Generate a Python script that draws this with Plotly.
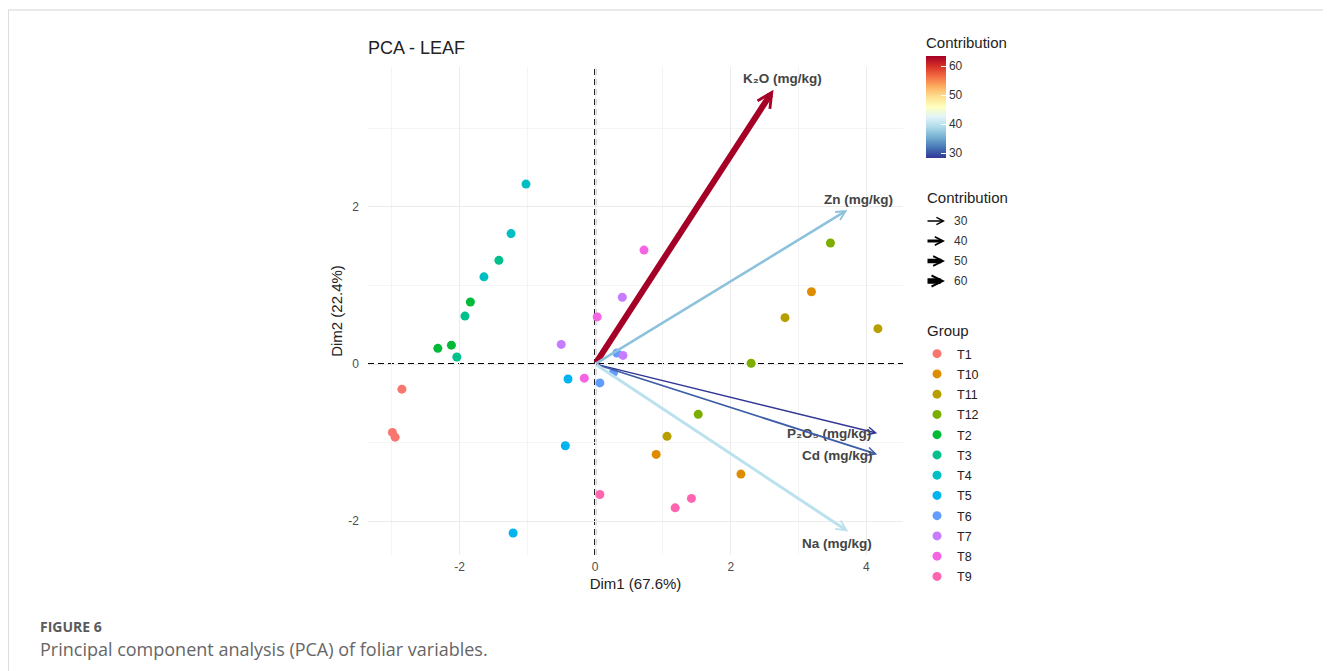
import plotly.graph_objects as go
from plotly.colors import sample_colorscale

# ---------------- data ----------------
groups = ["T1", "T10", "T11", "T12", "T2", "T3", "T4", "T5", "T6", "T7", "T8", "T9"]
group_colors = ["#F8766D", "#DE8C00", "#B79F00", "#7CAE00", "#00BA38", "#00C08B",
                "#00BFC4", "#00B4F0", "#619CFF", "#C77CFF", "#F564E3", "#FF64B0"]
dim1 = {
    "T1": [-2.85, -2.99, -2.95],
    "T10": [3.19, 0.90, 2.15],
    "T11": [2.80, 4.17, 1.06],
    "T12": [3.47, 2.30, 1.52],
    "T2": [-2.32, -2.12, -1.84],
    "T3": [-2.04, -1.92, -1.42],
    "T4": [-1.02, -1.64, -1.24],
    "T5": [-0.40, -0.44, -1.21],
    "T6": [0.07, 0.32, 0.27],
    "T7": [-0.50, 0.40, 0.41],
    "T8": [0.72, 0.03, -0.16],
    "T9": [0.07, 1.18, 1.42],
}
dim2 = {
    "T1": [-0.32, -0.87, -0.93],
    "T10": [0.92, -1.15, -1.40],
    "T11": [0.59, 0.45, -0.92],
    "T12": [1.54, 0.01, -0.64],
    "T2": [0.20, 0.24, 0.79],
    "T3": [0.09, 0.61, 1.32],
    "T4": [2.29, 1.11, 1.66],
    "T5": [-0.19, -1.04, -2.15],
    "T6": [-0.24, 0.14, -0.11],
    "T7": [0.25, 0.85, 0.11],
    "T8": [1.45, 0.60, -0.18],
    "T9": [-1.66, -1.83, -1.71],
}

variables = ["K₂O (mg/kg)", "Zn (mg/kg)", "P₂O₅ (mg/kg)", "Cd (mg/kg)", "Na (mg/kg)"]
var_dim1 = [2.63, 3.72, 4.16, 4.16, 3.73]
var_dim2 = [3.49, 1.96, -0.88, -1.15, -2.13]
var_contrib = [63.5, 37.0, 28.3, 30.5, 40.0]
label_dim1 = [2.77, 3.88, 3.45, 3.58, 3.57]
label_dim2 = [3.63, 2.10, -0.89, -1.16, -2.28]

contrib_ticks = [30, 40, 50, 60]
x_ticks = [-2, 0, 2, 4]
x_ticktext = ["-2", "0", "2", "4"]
y_ticks = [-2, 0, 2]
y_ticktext = ["-2", "0", "2"]

# ---------------- figure ----------------
OFF = 8  # page body margin of the browser
W, H = 1331 - OFF, 671 - OFF
L, R, T, B = 368 - OFF, 428, 67 - OFF, 116
pw, ph = W - L - R, H - T - B


def px(xp):
    return (xp - OFF - L) / pw


def py(yp):
    return (H - B - (yp - OFF)) / ph


scale = [[0.0, "rgb(49,54,149)"], [0.1, "rgb(69,117,180)"], [0.2, "rgb(116,173,209)"],
         [0.3, "rgb(171,217,233)"], [0.4, "rgb(224,243,248)"], [0.5, "rgb(255,255,191)"],
         [0.6, "rgb(254,224,144)"], [0.7, "rgb(253,174,97)"], [0.8, "rgb(244,109,67)"],
         [0.9, "rgb(215,48,39)"], [1.0, "rgb(165,0,38)"]]
cmin, cmax = min(var_contrib), max(var_contrib)

FONT = "Liberation Sans, Arial, DejaVu Sans, sans-serif"

fig = go.Figure()

for g, c in zip(groups, group_colors):
    fig.add_trace(go.Scatter(
        x=dim1[g], y=dim2[g], mode="markers", name=g, legendgroup=g,
        marker=dict(color=c, size=9),
    ))

# colorbar carrier
fig.add_trace(go.Scatter(
    x=[None] * len(var_contrib), y=[None] * len(var_contrib), mode="markers",
    showlegend=False, hoverinfo="skip",
    marker=dict(color=var_contrib, colorscale=scale, cmin=cmin, cmax=cmax, showscale=True,
                colorbar=dict(
                    title=dict(text="Contribution", side="top", font=dict(size=15, color="#222")),
                    x=px(926), xanchor="left", xpad=0,
                    y=py(34), yanchor="top", ypad=0,
                    len=124, lenmode="pixels", thickness=20,
                    tickvals=contrib_ticks, ticks="inside", ticklen=5, tickcolor="white",
                    tickfont=dict(size=12, color="#333"), outlinewidth=0,
                )),
))


def width_of(c):
    return 1.4 + (c - 28) / 35 * 4.6


# arrows for variables
norm = [(c - cmin) / (cmax - cmin) for c in var_contrib]
arrow_cols = sample_colorscale(scale, norm)
for v, xx, yy, c, col, lx, ly in zip(variables, var_dim1, var_dim2, var_contrib, arrow_cols,
                                     label_dim1, label_dim2):
    w = width_of(c)
    hw = 9 + (w - 1.4) * 1.8
    fig.add_annotation(x=xx, y=yy, ax=0, ay=0, xref="x", yref="y", axref="x", ayref="y",
                       showarrow=True, arrowhead=5, arrowsize=max(0.3, hw / (6 * w)),
                       arrowwidth=w, arrowcolor=col, text="")
    fig.add_annotation(x=lx, y=ly, xref="x", yref="y", text="<b>" + v + "</b>",
                       showarrow=False, font=dict(size=13.5, color="#444", family=FONT))

# zero dashed lines
fig.add_shape(type="line", xref="x", yref="paper", x0=0, x1=0, y0=0, y1=1,
              line=dict(color="black", width=2, dash="6px,4px"), layer="below")
fig.add_shape(type="line", xref="paper", yref="y", x0=0, x1=1, y0=0, y1=0,
              line=dict(color="black", width=2, dash="6px,4px"), layer="below")

# arrow-width legend
fig.add_annotation(x=px(925), y=py(197), xref="paper", yref="paper", text="Contribution",
                   showarrow=False, xanchor="left", yanchor="middle",
                   font=dict(size=15, color="#222"))
for i, c in enumerate(contrib_ticks):
    yy = 221 + 20 * i
    w = width_of(c)
    hw = 8 + (w - 1.4) * 1.2
    fig.add_annotation(x=px(945), y=py(yy), xref="paper", yref="paper", ax=-19, ay=0,
                       showarrow=True, arrowhead=5, arrowsize=max(0.3, hw / (6 * w)),
                       arrowwidth=w, arrowcolor="black", text="")
    fig.add_annotation(x=px(952), y=py(yy), xref="paper", yref="paper", text=str(c),
                       showarrow=False, xanchor="left", yanchor="middle",
                       font=dict(size=12, color="#333"))

# group legend title
fig.add_annotation(x=px(925), y=py(330), xref="paper", yref="paper", text="Group",
                   showarrow=False, xanchor="left", yanchor="middle",
                   font=dict(size=15, color="#222"))

# page frame and caption
fig.add_shape(type="line", xref="paper", yref="paper", x0=px(8), x1=px(1331), y0=py(10), y1=py(10),
              line=dict(color="#d3d3d3", width=1))
fig.add_shape(type="line", xref="paper", yref="paper", x0=px(8), x1=px(8), y0=py(10), y1=py(671),
              line=dict(color="#d3d3d3", width=1.5))
fig.add_annotation(x=px(38), y=py(626), xref="paper", yref="paper", text="<b>FIGURE 6</b>",
                   showarrow=False, xanchor="left", yanchor="middle",
                   font=dict(family="Open Sans, sans-serif", size=14, color="#5a5a5a"))
fig.add_annotation(x=px(38), y=py(649), xref="paper", yref="paper",
                   text="Principal component analysis (PCA) of foliar variables.",
                   showarrow=False, xanchor="left", yanchor="middle",
                   font=dict(family="Open Sans, sans-serif", size=18, color="#666"))

fig.update_layout(
    width=W, height=H,
    margin=dict(l=L, r=R, t=T, b=B, autoexpand=False),
    paper_bgcolor="white", plot_bgcolor="white",
    font=dict(family=FONT, color="#222"),
    title=dict(text="PCA - LEAF", x=0, xref="paper", xanchor="left", y=1 - (48 - OFF) / H,
               yanchor="middle", font=dict(size=18, color="#222")),
    xaxis=dict(range=[-3.35, 4.54], tickvals=x_ticks, ticktext=x_ticktext,
               showgrid=True, gridcolor="#ebebeb", gridwidth=1, zeroline=False,
               minor=dict(dtick=1, tick0=1, showgrid=True, gridcolor="#f4f4f4", gridwidth=0.8),
               tickfont=dict(size=12, color="#4d4d4d"), ticks="", ticklabelstandoff=3,
               title=dict(text="Dim1 (67.6%)", font=dict(size=15, color="#222"), standoff=5)),
    yaxis=dict(range=[-2.43, 3.78], tickvals=y_ticks, ticktext=y_ticktext,
               showgrid=True, gridcolor="#ebebeb", gridwidth=1, zeroline=False,
               minor=dict(dtick=1, tick0=1, showgrid=True, gridcolor="#f4f4f4", gridwidth=0.8),
               tickfont=dict(size=12, color="#4d4d4d"), ticks="", ticklabelstandoff=8,
               title=dict(text="Dim2 (22.4%)", font=dict(size=15, color="#222"), standoff=2)),
    legend=dict(x=px(917), xanchor="left", y=py(339), yanchor="top",
                font=dict(size=12.5, color="#222"), tracegroupgap=1.0,
                bgcolor="rgba(0,0,0,0)"),
)

fig.write_html("out.html")
